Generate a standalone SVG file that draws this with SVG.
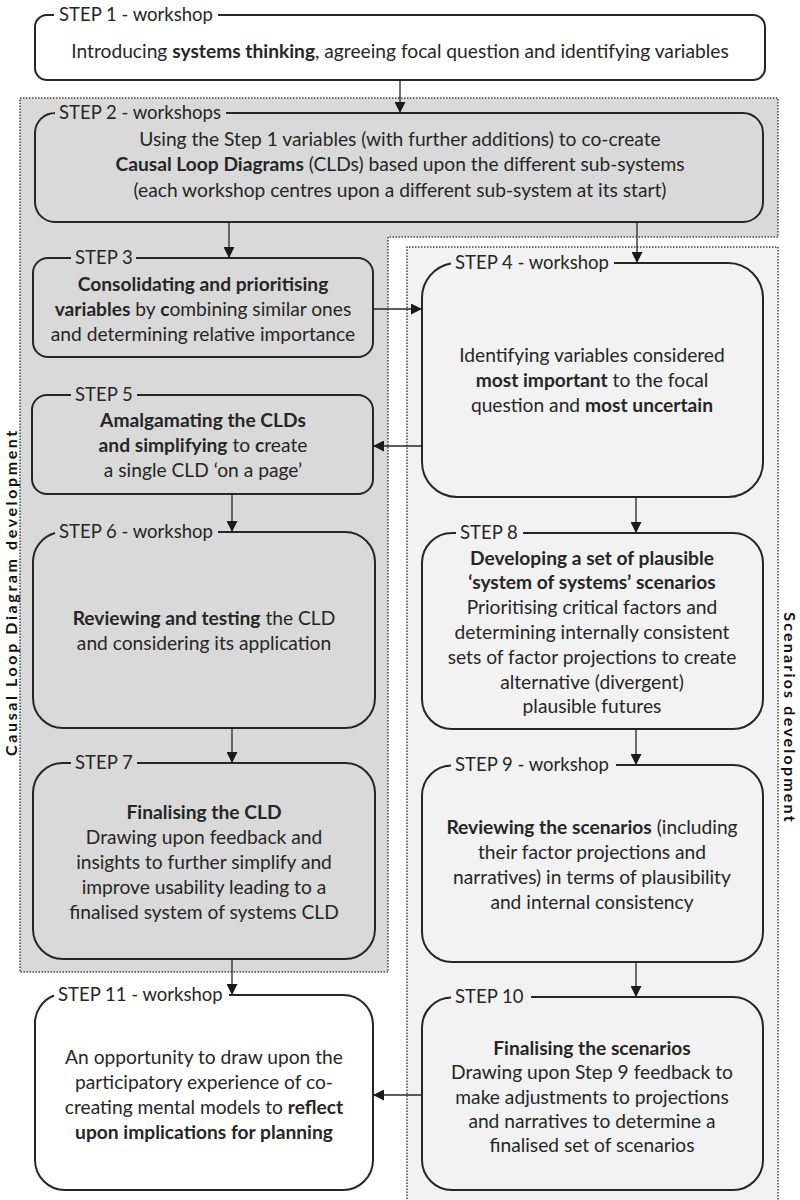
<svg xmlns="http://www.w3.org/2000/svg" width="800" height="1200" viewBox="0 0 800 1200">
<defs>
<style>
text{font-family:Lato,"Liberation Sans",sans-serif;fill:#262626;}
.t{font-size:19.2px;text-anchor:middle;}
.lbl{font-size:18.5px;}
.b{font-weight:bold;}
.side{font-size:16px;font-weight:bold;text-anchor:middle;fill:#111;}
.box{stroke:#262626;stroke-width:2;}
.w{fill:#ffffff;}
.g{fill:#d9d9d9;}
.l{fill:#f2f2f2;}
.region{stroke:#444;stroke-width:1.5;stroke-dasharray:1.5 1.5;}
.conn{stroke:#262626;stroke-width:1.3;fill:none;marker-end:url(#arr);}
</style>
<marker id="arr" markerUnits="userSpaceOnUse" markerWidth="11" markerHeight="11" refX="11" refY="5.5" orient="auto">
<path d="M0,0 L11,5.5 L0,11 z" fill="#1a1a1a"/>
</marker>
</defs>
<rect width="800" height="1200" fill="#ffffff"/>
<!-- regions -->
<path class="region" d="M20,98 H778 V237 H388 V972 H20 Z" fill="#d9d9d9"/>
<path class="region" d="M407,1202 V247 H778 V1202" fill="#f2f2f2"/>
<text class="side" letter-spacing="2.6" transform="translate(16.5,592) rotate(-90)">Causal Loop Diagram development</text>
<text class="side" letter-spacing="2.2" transform="translate(783.5,718) rotate(90)">Scenarios development</text>

<g id="step1">
<path class="box w" d="M218,15 H753 A12,12 0 0 1 765,27 V68 A12,12 0 0 1 753,80 H47 A12,12 0 0 1 35,68 V27 A12,12 0 0 1 47,15 H54"/>
<text class="lbl" x="59" y="21">STEP 1 - workshop</text>
<text class="t" x="400" y="58">Introducing <tspan class="b">systems thinking</tspan>, agreeing focal question and identifying variables</text>
</g>

<g id="step2">
<path class="box g" d="M226,113 H743 A20,20 0 0 1 763,133 V202 A20,20 0 0 1 743,222 H55 A20,20 0 0 1 35,202 V133 A20,20 0 0 1 55,113 H54"/>
<text class="lbl" x="59" y="119">STEP 2 - workshops</text>
<text class="t" x="400" y="146">Using the Step 1 variables (with further additions) to co-create</text>
<text class="t" x="400" y="171"><tspan class="b">Causal Loop Diagrams</tspan> (CLDs) based upon the different sub-systems</text>
<text class="t" x="400" y="197">(each workshop centres upon a different sub-system at its start)</text>
</g>

<g id="step3">
<path class="box g" d="M136,258 H358 A15,15 0 0 1 373,273 V342 A15,15 0 0 1 358,357 H48 A15,15 0 0 1 33,342 V273 A15,15 0 0 1 48,258 H71"/>
<text class="lbl" x="75" y="264">STEP 3</text>
<text class="t" x="203" y="291"><tspan class="b">Consolidating and prioritising</tspan></text>
<text class="t" x="203" y="316"><tspan class="b">variables</tspan> by <tspan class="b">c</tspan>ombining similar ones</text>
<text class="t" x="203" y="341">and determining relative importance</text>
</g>

<g id="step4">
<path class="box l" d="M614,263 H728 A35,35 0 0 1 763,298 V462 A35,35 0 0 1 728,497 H457 A35,35 0 0 1 422,462 V298 A35,35 0 0 1 451,263.5"/>
<text class="lbl" x="455" y="269">STEP 4 - workshop</text>
<text class="t" x="592" y="362">Identifying variables considered</text>
<text class="t" x="592" y="387"><tspan class="b">most important</tspan> to the focal</text>
<text class="t" x="592" y="412">question and <tspan class="b">most uncertain</tspan></text>
</g>

<g id="step5">
<path class="box g" d="M137,395 H358 A15,15 0 0 1 373,410 V479 A15,15 0 0 1 358,494 H47 A15,15 0 0 1 32,479 V410 A15,15 0 0 1 47,395 H71"/>
<text class="lbl" x="75" y="401">STEP 5</text>
<text class="t" x="203" y="427"><tspan class="b">Amalgamating the CLDs</tspan></text>
<text class="t" x="203" y="452"><tspan class="b">and simplifying</tspan> to <tspan class="b">c</tspan>reate</text>
<text class="t" x="203" y="477">a single CLD ‘on a page’</text>
</g>

<g id="step6">
<path class="box g" d="M218,532 H345 A30,30 0 0 1 375,562 V698 A30,30 0 0 1 345,728 H63 A30,30 0 0 1 33,698 V562 A30,30 0 0 1 55,533"/>
<text class="lbl" x="59" y="538">STEP 6 - workshop</text>
<text class="t" x="204" y="625"><tspan class="b">Reviewing and testing</tspan> the CLD</text>
<text class="t" x="204" y="650">and considering its application</text>
</g>

<g id="step7">
<path class="box g" d="M137,763 H345 A30,30 0 0 1 375,793 V929 A30,30 0 0 1 345,959 H63 A30,30 0 0 1 33,929 V793 A30,30 0 0 1 63,763 H71"/>
<text class="lbl" x="75" y="769">STEP 7</text>
<text class="t" x="204" y="819"><tspan class="b">Finalising the CLD</tspan></text>
<text class="t" x="204" y="844">Drawing upon feedback and</text>
<text class="t" x="204" y="869">insights to further simplify and</text>
<text class="t" x="204" y="894">improve usability leading to a</text>
<text class="t" x="204" y="919">finalised system of systems CLD</text>
</g>

<g id="step8">
<path class="box l" d="M523,533 H733 A30,30 0 0 1 763,563 V699 A30,30 0 0 1 733,729 H452 A30,30 0 0 1 422,699 V563 A30,30 0 0 1 452,533 H456"/>
<text class="lbl" x="460" y="539">STEP 8</text>
<text class="t" x="592" y="565"><tspan class="b">Developing a set of plausible</tspan></text>
<text class="t" x="592" y="589"><tspan class="b">‘system of systems’ scenarios</tspan></text>
<text class="t" x="592" y="614">Prioritising critical factors and</text>
<text class="t" x="592" y="639">determining internally consistent</text>
<text class="t" x="592" y="664">sets of factor projections to create</text>
<text class="t" x="592" y="689">alternative (divergent)</text>
<text class="t" x="592" y="713">plausible futures</text>
</g>

<g id="step9">
<path class="box l" d="M616,765 H733 A30,30 0 0 1 763,795 V932 A30,30 0 0 1 733,962 H452 A30,30 0 0 1 422,932 V795 A30,30 0 0 1 451,765.5"/>
<text class="lbl" x="455" y="771">STEP 9 - workshop</text>
<text class="t" x="592" y="834"><tspan class="b">Reviewing the scenarios</tspan> (including</text>
<text class="t" x="592" y="859">their factor projections and</text>
<text class="t" x="592" y="884">narratives) in terms of plausibility</text>
<text class="t" x="592" y="909">and internal consistency</text>
</g>

<g id="step10">
<path class="box l" d="M531,997 H733 A30,30 0 0 1 763,1027 V1160 A30,30 0 0 1 733,1190 H452 A30,30 0 0 1 422,1160 V1027 A30,30 0 0 1 451,997.5"/>
<text class="lbl" x="455" y="1003">STEP 10</text>
<text class="t" x="592" y="1055"><tspan class="b">Finalising the scenarios</tspan></text>
<text class="t" x="592" y="1079">Drawing upon Step 9 feedback to</text>
<text class="t" x="592" y="1104">make adjustments to projections</text>
<text class="t" x="592" y="1128">and narratives to determine a</text>
<text class="t" x="592" y="1152">finalised set of scenarios</text>
</g>

<g id="step11">
<path class="box w" d="M229,995 H343 A30,30 0 0 1 373,1025 V1160 A30,30 0 0 1 343,1190 H65 A30,30 0 0 1 35,1160 V1025 A30,30 0 0 1 54,995.5"/>
<text class="lbl" x="58" y="1001">STEP 11 - workshop</text>
<text class="t" x="204" y="1064">An opportunity to draw upon the</text>
<text class="t" x="204" y="1089">participatory experience of co-</text>
<text class="t" x="204" y="1114">creating mental models to <tspan class="b">reflect</tspan></text>
<text class="t" x="204" y="1139"><tspan class="b">upon implications for planning</tspan></text>
</g>

<g id="connectors">
<line class="conn" x1="400" y1="80" x2="400" y2="113"/>
<line class="conn" x1="229" y1="222" x2="229" y2="258"/>
<line class="conn" x1="637" y1="222" x2="637" y2="263"/>
<line class="conn" x1="373" y1="309" x2="422" y2="309"/>
<line class="conn" x1="422" y1="446" x2="373" y2="446"/>
<line class="conn" x1="232" y1="494" x2="232" y2="532"/>
<line class="conn" x1="232" y1="728" x2="232" y2="763"/>
<line class="conn" x1="232" y1="959" x2="232" y2="995"/>
<line class="conn" x1="636" y1="497" x2="636" y2="533"/>
<line class="conn" x1="636" y1="729" x2="636" y2="765"/>
<line class="conn" x1="636" y1="962" x2="636" y2="997"/>
<line class="conn" x1="422" y1="1095" x2="373" y2="1095"/>
</g>
</svg>
